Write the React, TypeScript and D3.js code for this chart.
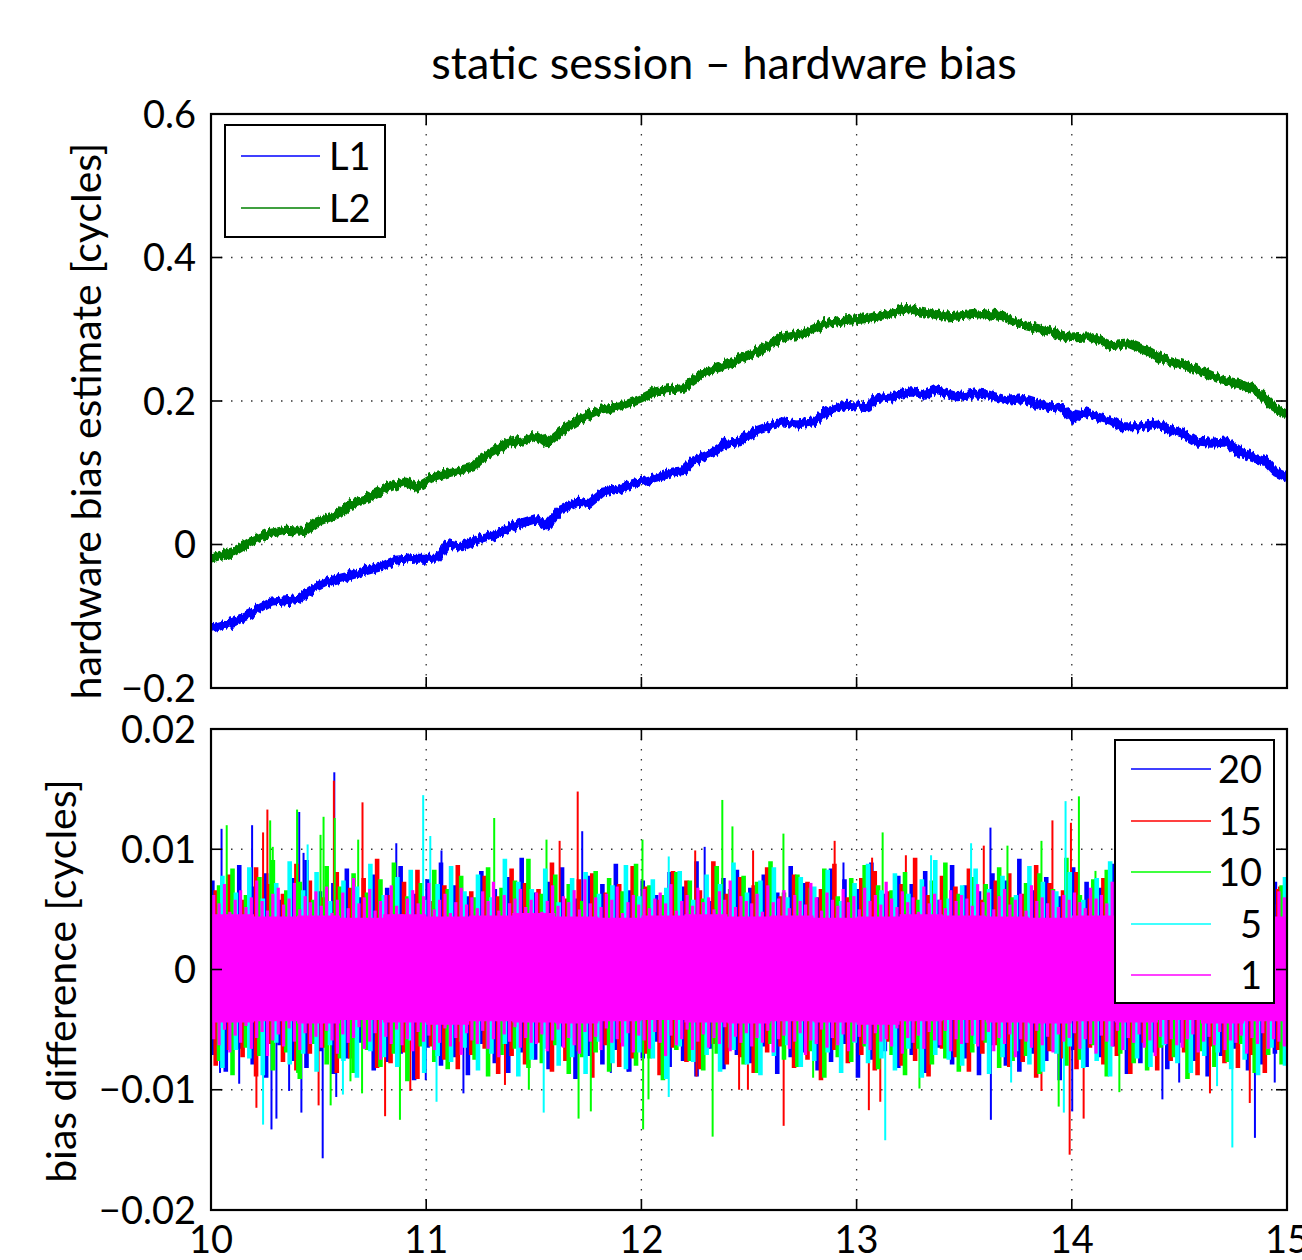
import React from "react";
import * as d3 from "d3";

// ---------- axis ticks ----------
const X_TICKS = [10, 11, 12, 13, 14, 15];
const TOP_Y_TICKS = [-0.2, 0, 0.2, 0.4, 0.6];
const BOTTOM_Y_TICKS = [-0.02, -0.01, 0, 0.01, 0.02];
const TOP_Y_LABELS = ["\u22120.2", "0", "0.2", "0.4", "0.6"];
const BOTTOM_Y_LABELS = ["\u22120.02", "\u22120.01", "0", "0.01", "0.02"];

// ---------- upper panel: hardware bias estimates [hour, cycles] ----------
const L1_POINTS: [number, number][] = [
  [10.0, -0.117], [10.105, -0.108], [10.186, -0.096], [10.284, -0.08], [10.399, -0.077],
  [10.464, -0.064], [10.562, -0.05], [10.627, -0.045], [10.725, -0.036], [10.791, -0.031],
  [10.856, -0.022], [10.954, -0.019], [11.052, -0.019], [11.101, 0.001], [11.167, -0.003],
  [11.248, 0.008], [11.33, 0.015], [11.412, 0.027], [11.51, 0.036], [11.559, 0.026],
  [11.624, 0.048], [11.706, 0.059], [11.755, 0.057], [11.82, 0.073], [11.902, 0.078],
  [12.0, 0.087], [12.065, 0.092], [12.147, 0.101], [12.196, 0.103], [12.245, 0.117],
  [12.327, 0.127], [12.392, 0.141], [12.455, 0.143], [12.538, 0.159], [12.654, 0.171],
  [12.721, 0.168], [12.804, 0.171], [12.87, 0.187], [12.953, 0.194], [13.053, 0.192],
  [13.086, 0.203], [13.169, 0.206], [13.252, 0.213], [13.319, 0.208], [13.369, 0.215],
  [13.468, 0.206], [13.551, 0.21], [13.618, 0.208], [13.701, 0.201], [13.767, 0.203],
  [13.867, 0.194], [13.95, 0.189], [14.008, 0.175], [14.05, 0.185], [14.116, 0.178],
  [14.183, 0.173], [14.233, 0.164], [14.316, 0.164], [14.399, 0.168], [14.449, 0.161],
  [14.515, 0.155], [14.581, 0.143], [14.648, 0.141], [14.714, 0.143], [14.781, 0.129],
  [14.847, 0.122], [14.897, 0.117], [14.947, 0.101], [15.0, 0.094],
];

const L2_POINTS: [number, number][] = [
  [10.0, -0.019], [10.105, -0.01], [10.186, 0.004], [10.268, 0.015], [10.35, 0.02],
  [10.431, 0.018], [10.497, 0.032], [10.595, 0.043], [10.644, 0.055], [10.725, 0.064],
  [10.807, 0.076], [10.905, 0.087], [10.954, 0.08], [11.02, 0.092], [11.118, 0.101],
  [11.216, 0.108], [11.265, 0.122], [11.379, 0.141], [11.461, 0.145], [11.51, 0.152],
  [11.559, 0.141], [11.641, 0.161], [11.706, 0.173], [11.804, 0.187], [11.902, 0.192],
  [12.0, 0.203], [12.065, 0.213], [12.196, 0.219], [12.294, 0.24], [12.392, 0.25],
  [12.455, 0.259], [12.555, 0.271], [12.654, 0.289], [12.754, 0.294], [12.854, 0.308],
  [12.953, 0.312], [13.053, 0.315], [13.153, 0.322], [13.236, 0.329], [13.319, 0.324],
  [13.419, 0.317], [13.518, 0.32], [13.585, 0.322], [13.684, 0.317], [13.784, 0.305],
  [13.884, 0.298], [13.983, 0.289], [14.083, 0.291], [14.183, 0.277], [14.266, 0.28],
  [14.365, 0.268], [14.432, 0.257], [14.515, 0.25], [14.615, 0.24], [14.698, 0.229],
  [14.781, 0.224], [14.864, 0.213], [14.93, 0.194], [15.0, 0.18],
];

// ---------- lower panel: bias differences, per-bin max/min in 1e-4 cycles ----------
const BLUE_HI = [74,62,87,69,80,58,76,91,65,72,84,60,79,68,86,63,75,89,70,61,
  82,67,77,93,64,73,85,59,78,71,88,66,74,62,81,69,90,57,76,83,
  68,79,64,86,72,60,84,75,67,89,63,78,71,82,58,87,70,65,80,74,
  92,66,77,61,85,73,68,88,62,79,75,84,59,71,86,67,78,64,81,73];
const BLUE_LO = [-71,-85,-66,-79,-90,-63,-76,-82,-68,-87,-74,-61,-84,-77,-70,-92,-65,-80,-73,-88,
  -62,-78,-86,-69,-75,-83,-64,-91,-72,-79,-67,-85,-74,-60,-81,-76,-89,-66,-83,-71,
  -78,-64,-87,-73,-69,-84,-77,-62,-90,-75,-68,-82,-71,-86,-65,-79,-74,-88,-63,-80,
  -85,-70,-76,-92,-67,-81,-73,-64,-87,-78,-69,-83,-61,-76,-89,-72,-66,-84,-79,-70];
const RED_HI = [66,79,58,85,71,63,88,74,60,81,68,76,92,62,73,83,57,70,87,65,
  78,61,84,72,67,89,59,75,80,64,71,86,69,58,82,74,66,90,63,77,
  70,85,61,79,73,67,88,60,76,82,65,71,93,62,78,69,84,58,74,80,
  63,87,72,66,81,59,76,90,68,73,62,85,70,64,79,75,88,61,83,67];
const RED_LO = [-80,-67,-73,-89,-62,-77,-84,-70,-65,-86,-74,-60,-82,-78,-69,-91,-64,-75,-83,-71,
  -66,-87,-72,-79,-61,-85,-76,-68,-90,-63,-81,-74,-70,-88,-65,-77,-83,-62,-79,-73,
  -86,-69,-64,-82,-75,-92,-67,-78,-71,-84,-60,-80,-76,-89,-66,-73,-85,-70,-63,-81,
  -77,-90,-68,-74,-83,-65,-79,-72,-87,-61,-84,-76,-69,-88,-64,-78,-82,-71,-86,-67];
const GREEN_HI = [70,84,62,77,91,66,73,58,86,69,80,64,75,89,61,72,83,67,78,60,
  85,68,74,92,63,79,71,57,82,76,65,88,70,62,81,74,59,86,67,78,
  73,90,64,79,68,84,61,76,87,70,66,81,58,74,89,63,77,71,85,60,
  72,80,67,93,62,75,83,69,78,64,86,71,60,82,74,68,88,65,79,70];
const GREEN_LO = [-76,-88,-65,-72,-84,-69,-91,-62,-79,-74,-86,-67,-81,-70,-93,-64,-77,-83,-60,-75,
  -89,-71,-66,-82,-78,-63,-87,-73,-69,-85,-61,-80,-74,-92,-67,-76,-84,-70,-65,-79,
  -86,-62,-75,-81,-68,-90,-73,-77,-64,-83,-71,-88,-66,-79,-74,-85,-69,-61,-82,-76,
  -72,-87,-67,-80,-75,-63,-89,-70,-78,-84,-65,-73,-91,-68,-81,-77,-62,-86,-71,-79];
const CYAN_HI = [78,64,85,59,72,90,66,81,57,74,69,88,62,77,83,58,71,86,65,79,
  60,92,73,67,84,56,76,81,63,70,87,61,75,68,82,58,79,71,89,64,
  74,85,60,77,69,83,57,72,88,66,80,63,75,91,59,70,84,67,78,62,
  86,73,65,81,58,76,90,68,74,61,83,70,79,64,87,59,72,80,66,77];
const CYAN_LO = [-82,-67,-74,-88,-61,-79,-70,-85,-63,-76,-90,-68,-73,-81,-59,-86,-72,-77,-65,-84,
  -70,-62,-89,-75,-66,-80,-73,-87,-60,-78,-83,-69,-74,-91,-64,-77,-71,-85,-67,-79,
  -88,-72,-63,-81,-76,-69,-86,-61,-78,-74,-84,-66,-90,-71,-75,-80,-62,-87,-73,-68,
  -79,-85,-70,-64,-82,-76,-89,-67,-74,-81,-63,-78,-86,-72,-69,-83,-75,-88,-65,-80];
const MAGENTA_HI = [62,55,71,48,58,66,52,60,74,57,49,63,68,54,59,72,50,61,56,65,
  53,69,47,58,64,51,76,55,60,67,49,57,62,70,53,46,59,66,55,61,
  72,50,58,63,47,56,68,54,60,51,65,57,73,49,62,55,59,67,52,58,
  64,48,57,70,53,61,56,66,50,75,55,60,52,63,58,69,47,56,62,54,
  67,51,59,64,55,71,49,57,62,53,68,56,60,50,65,58,74,52,61,57,
  55,63,48,70,56,59,66,51,62,57,54,72,60,49,64,58,53,67,56,61,
  50,68,57,62,54,73,59,52,65,56,60,48,69,55,63,58,51,66,57,62,
  59,53,71,56,64,50,61,67,54,58,63,49,70,57,60,55,66,52,62,58,
  64,56,51,68,59,62,55,73,50,60,57,65,53,61,69,56,58,52,63,67,
  54,60,66,50,63,57,71,55,59,52,64,58,62,49,67,56,61,54,65,60];
const MAGENTA_LO = [-58,-63,-50,-69,-55,-61,-47,-66,-57,-52,-72,-59,-54,-64,-49,-60,-67,-53,-62,-56,
  -65,-51,-59,-70,-54,-61,-57,-48,-66,-60,-53,-75,-56,-62,-50,-63,-58,-68,-52,-60,
  -55,-67,-61,-49,-64,-57,-71,-53,-59,-62,-51,-66,-58,-73,-54,-60,-48,-65,-57,-61,
  -62,-54,-68,-59,-50,-65,-57,-63,-70,-52,-60,-56,-67,-49,-61,-58,-64,-53,-69,-55,
  -59,-66,-52,-61,-72,-55,-63,-58,-50,-67,-60,-54,-65,-57,-62,-48,-68,-56,-61,-53,
  -64,-57,-61,-51,-69,-58,-55,-66,-60,-53,-71,-59,-62,-50,-65,-57,-63,-54,-68,-60,
  -56,-62,-67,-53,-60,-58,-64,-49,-70,-57,-61,-55,-66,-52,-59,-63,-51,-68,-58,-62,
  -61,-55,-64,-59,-52,-68,-57,-62,-54,-73,-58,-60,-65,-51,-63,-56,-69,-54,-60,-57,
  -53,-66,-58,-62,-70,-55,-60,-64,-51,-67,-57,-61,-54,-65,-59,-72,-56,-62,-58,-63,
  -65,-58,-54,-69,-60,-56,-63,-52,-67,-59,-61,-55,-70,-57,-62,-53,-66,-58,-60,-64];
// dense central part of the 1-epoch series, every 0.2 h
const MAGENTA_CORE_HI = [46,44,45,43,46,44,45,47,44,43,45,46,44,45,43,44,46,45,44,43,45,46,44,45,44,46];
const MAGENTA_CORE_LO = [-44,-43,-45,-42,-44,-46,-43,-44,-45,-43,-42,-44,-45,-43,-44,-46,-43,-42,-44,-45,-43,-44,-42,-45,-43,-44];

// isolated outliers [hour, 1e-4 cycles]
const BLUE_PEAKS: [number, number][] = [
  [10.049, 117], [10.191, 120], [10.41, 131], [10.43, 97], [10.573, 164], [10.861, 105],
  [11.071, 99], [11.725, 115], [12.294, 102], [12.939, 89], [13.622, 118],
  [10.042, -86], [10.131, -95], [10.281, -133], [10.304, -124], [10.363, -101], [10.42, -119],
  [10.519, -157], [10.582, -106], [10.998, -92], [11.173, -103], [11.858, -86], [11.935, -85],
  [13.624, -125], [14.002, -118], [14.421, -108], [14.499, -94], [14.851, -140], [14.943, -94],
];
const RED_PEAKS: [number, number][] = [
  [10.242, 114], [10.262, 133], [10.571, 157], [10.704, 139], [11.62, 107], [11.704, 148],
  [12.25, 99], [12.519, 99], [12.898, 107], [13.072, 93], [13.229, 95], [13.591, 103],
  [13.91, 124], [13.996, 122], [14.963, 69],
  [10.211, -115], [10.5, -113], [10.809, -122], [10.926, -101], [11.285, -88], [11.366, -96],
  [12.256, -89], [12.454, -100], [12.495, -100], [12.661, -130], [13.057, -117], [13.11, -110],
  [13.859, -101], [13.99, -154], [14.055, -124], [14.642, -103], [14.827, -111],
];
const GREEN_PEAKS: [number, number][] = [
  [10.073, 120], [10.275, 124], [10.287, 102], [10.4, 133], [10.509, 112], [10.523, 127],
  [10.575, 126], [10.684, 108], [11.316, 126], [11.559, 108], [12.005, 108], [12.376, 141],
  [12.423, 119], [12.66, 113], [13.121, 114], [13.701, 103], [13.859, 107], [14.033, 144],
  [14.11, 82],
  [10.4, -86], [10.556, -113], [10.648, -93], [10.702, -103], [10.878, -125], [11.477, -100],
  [11.708, -124], [11.765, -118], [12.008, -133], [12.033, -108], [12.331, -139], [12.798, -90],
  [13.292, -99], [13.939, -114], [14.221, -102],
];
const CYAN_PEAKS: [number, number][] = [
  [10.449, 104], [10.986, 145], [11.019, 111], [12.127, 94], [13.346, 95], [13.532, 105],
  [13.971, 140], [14.906, 99],
  [10.242, -129], [10.613, -104], [11.048, -110], [11.546, -119], [12.127, -106], [13.133, -142],
  [13.718, -94], [13.963, -119], [14.675, -97], [14.746, -148],
];

const SERIES_LABELS = ["20", "15", "10", "5", "1"];
const SERIES_COLORS = ["#0000ff", "#ff0000", "#00ff00", "#00ffff", "#ff00ff"];

// ---------- layout ----------
const W = 1302;
const H = 1260;
const LEFT = 211;
const RIGHT = 1287;
const TOP_PANEL = { top: 114, bottom: 688 };
const BOTTOM_PANEL = { top: 729, bottom: 1210 };
const TICK_LEN = 11;
const FONT = "Lato, 'Open Sans', 'DejaVu Sans', sans-serif";
const TICK_FONT = 38;
const LABEL_FONT = 41;
const TITLE_FONT = 45;
const UNIT = 1e-4;

const x = d3.scaleLinear().domain([10, 15]).range([LEFT, RIGHT]);
const yTop = d3.scaleLinear().domain([-0.2, 0.6]).range([TOP_PANEL.bottom, TOP_PANEL.top]);
const yBot = d3.scaleLinear().domain([-0.02, 0.02]).range([BOTTOM_PANEL.bottom, BOTTOM_PANEL.top]);

function Grid({ top, bottom, yScale, yTicks }: any) {
  return (
    <g>
      {X_TICKS.slice(1, -1).map((t) => (
        <line key={"gx" + t} x1={x(t)} x2={x(t)} y1={top} y2={bottom}
          stroke="#333" strokeWidth={1.3} strokeDasharray="1.5 8.5" />
      ))}
      {yTicks.slice(1, -1).map((t: number) => (
        <line key={"gy" + t} x1={LEFT} x2={RIGHT} y1={yScale(t)} y2={yScale(t)}
          stroke="#333" strokeWidth={1.3} strokeDasharray="1.5 8.5" />
      ))}
    </g>
  );
}

function Box({ top, bottom, yScale, yTicks, yLabels, showXLabels }: any) {
  return (
    <g>
      <rect x={LEFT} y={top} width={RIGHT - LEFT} height={bottom - top}
        fill="none" stroke="#000" strokeWidth={2.2} />
      {X_TICKS.map((t) => (
        <g key={"tx" + t}>
          <line x1={x(t)} x2={x(t)} y1={bottom} y2={bottom - TICK_LEN} stroke="#000" strokeWidth={1.6} />
          <line x1={x(t)} x2={x(t)} y1={top} y2={top + TICK_LEN} stroke="#000" strokeWidth={1.6} />
          {showXLabels && (
            <text x={x(t)} y={1253} textAnchor="middle" fontSize={TICK_FONT} fontFamily={FONT} fill="#000">
              {t}
            </text>
          )}
        </g>
      ))}
      {yTicks.map((t: number, i: number) => (
        <g key={"ty" + t}>
          <line x1={LEFT} x2={LEFT + TICK_LEN} y1={yScale(t)} y2={yScale(t)} stroke="#000" strokeWidth={1.6} />
          <line x1={RIGHT - TICK_LEN} x2={RIGHT} y1={yScale(t)} y2={yScale(t)} stroke="#000" strokeWidth={1.6} />
          <text x={196} y={yScale(t)} dy="0.36em" textAnchor="end" fontSize={TICK_FONT} fontFamily={FONT} fill="#000">
            {yLabels[i]}
          </text>
        </g>
      ))}
    </g>
  );
}

function Stems({ hi, lo, color, phase, width }: any) {
  const n = hi.length;
  return (
    <g>
      {hi.map((h: number, i: number) => {
        const t = 10 + ((i + phase) * 5) / n;
        return (
          <line key={i} x1={x(t)} x2={x(t)} y1={yBot(lo[i] * UNIT)} y2={yBot(h * UNIT)}
            stroke={color} strokeWidth={width} />
        );
      })}
    </g>
  );
}

function Peaks({ peaks, color }: any) {
  return (
    <g>
      {peaks.map(([t, v]: [number, number], i: number) => (
        <line key={i} x1={x(t)} x2={x(t)} y1={yBot(0)} y2={yBot(v * UNIT)} stroke={color} strokeWidth={2} />
      ))}
    </g>
  );
}

export default function App() {
  const line = d3.line<[number, number]>().x((d) => x(d[0])).y((d) => yTop(d[1]));

  const coreArea = d3
    .area<number>()
    .x((_, i) => x(10 + i * 0.2))
    .y0((_, i) => yBot(MAGENTA_CORE_LO[i] * UNIT))
    .y1((d) => yBot(d * UNIT))
    .curve(d3.curveStepAfter);

  const colored = [
    { hi: BLUE_HI, lo: BLUE_LO, peaks: BLUE_PEAKS, color: SERIES_COLORS[0], phase: 0.1 },
    { hi: RED_HI, lo: RED_LO, peaks: RED_PEAKS, color: SERIES_COLORS[1], phase: 0.35 },
    { hi: GREEN_HI, lo: GREEN_LO, peaks: GREEN_PEAKS, color: SERIES_COLORS[2], phase: 0.6 },
    { hi: CYAN_HI, lo: CYAN_LO, peaks: CYAN_PEAKS, color: SERIES_COLORS[3], phase: 0.85 },
  ];

  const legendYs = [769, 821, 872, 924, 975];

  return (
    <svg width={W} height={H} style={{ position: "absolute", left: 0, top: 0, background: "#fff" }}
      xmlns="http://www.w3.org/2000/svg">
      <defs>
        <clipPath id="clipTop">
          <rect x={LEFT} y={TOP_PANEL.top} width={RIGHT - LEFT} height={TOP_PANEL.bottom - TOP_PANEL.top} />
        </clipPath>
        <clipPath id="clipBottom">
          <rect x={LEFT} y={BOTTOM_PANEL.top} width={RIGHT - LEFT} height={BOTTOM_PANEL.bottom - BOTTOM_PANEL.top} />
        </clipPath>
        {/* measurement noise texture for the densely sampled estimate traces */}
        <filter id="traceNoise" filterUnits="userSpaceOnUse" x={LEFT - 10} y={TOP_PANEL.top}
          width={RIGHT - LEFT + 20} height={TOP_PANEL.bottom - TOP_PANEL.top}>
          <feTurbulence type="fractalNoise" baseFrequency="0.35 0.04" numOctaves={2} seed={7} result="noise" />
          <feComponentTransfer in="noise" result="vnoise">
            <feFuncR type="linear" slope={0} intercept={0.5} />
          </feComponentTransfer>
          <feDisplacementMap in="SourceGraphic" in2="vnoise" scale={10} xChannelSelector="R" yChannelSelector="G" />
        </filter>
      </defs>
      <rect x={0} y={0} width={W} height={H} fill="#fff" />

      {/* title */}
      <text x={724} y={79} textAnchor="middle" fontSize={TITLE_FONT} fontFamily={FONT} fill="#000">
        static session – hardware bias
      </text>

      {/* ---------- upper panel ---------- */}
      <Grid top={TOP_PANEL.top} bottom={TOP_PANEL.bottom} yScale={yTop} yTicks={TOP_Y_TICKS} />
      <g clipPath="url(#clipTop)">
        <g filter="url(#traceNoise)">
          <path d={line(L1_POINTS) || ""} fill="none" stroke="#0000ff" strokeWidth={9} strokeLinejoin="round" />
          <path d={line(L2_POINTS) || ""} fill="none" stroke="#008000" strokeWidth={9} strokeLinejoin="round" />
        </g>
      </g>
      <Box top={TOP_PANEL.top} bottom={TOP_PANEL.bottom} yScale={yTop} yTicks={TOP_Y_TICKS}
        yLabels={TOP_Y_LABELS} showXLabels={false} />
      <text transform="translate(101,421) rotate(-90)" textAnchor="middle" fontSize={LABEL_FONT} fontFamily={FONT} fill="#000">
        hardware bias estimate [cycles]
      </text>
      <g>
        <rect x={225} y={125} width={160} height={112} fill="#fff" stroke="#000" strokeWidth={2} />
        <line x1={241} x2={320} y1={156} y2={156} stroke="#0000ff" strokeWidth={1.5} />
        <line x1={241} x2={320} y1={208} y2={208} stroke="#008000" strokeWidth={1.5} />
        <text x={329} y={156} dy="0.36em" fontSize={TICK_FONT} fontFamily={FONT}>L1</text>
        <text x={329} y={208} dy="0.36em" fontSize={TICK_FONT} fontFamily={FONT}>L2</text>
      </g>

      {/* ---------- lower panel ---------- */}
      <Grid top={BOTTOM_PANEL.top} bottom={BOTTOM_PANEL.bottom} yScale={yBot} yTicks={BOTTOM_Y_TICKS} />
      <g clipPath="url(#clipBottom)">
        {colored.map((s, k) => (
          <g key={k}>
            <Stems hi={s.hi} lo={s.lo} color={s.color} phase={s.phase} width={4.6} />
            <Peaks peaks={s.peaks} color={s.color} />
          </g>
        ))}
        <path d={coreArea(MAGENTA_CORE_HI) || ""} fill={SERIES_COLORS[4]} />
        <Stems hi={MAGENTA_HI} lo={MAGENTA_LO} color={SERIES_COLORS[4]} phase={0.5} width={3.2} />
      </g>
      <Box top={BOTTOM_PANEL.top} bottom={BOTTOM_PANEL.bottom} yScale={yBot} yTicks={BOTTOM_Y_TICKS}
        yLabels={BOTTOM_Y_LABELS} showXLabels={true} />
      <text transform="translate(76,981) rotate(-90)" textAnchor="middle" fontSize={LABEL_FONT} fontFamily={FONT} fill="#000">
        bias difference [cycles]
      </text>
      <g>
        <rect x={1115} y={740} width={159} height={263} fill="#fff" stroke="#000" strokeWidth={2} />
        {SERIES_LABELS.map((lab, i) => (
          <g key={lab}>
            <line x1={1131} x2={1211} y1={legendYs[i]} y2={legendYs[i]} stroke={SERIES_COLORS[i]} strokeWidth={1.5} />
            <text x={1262} y={legendYs[i]} dy="0.36em" textAnchor="end" fontSize={TICK_FONT} fontFamily={FONT}>
              {lab}
            </text>
          </g>
        ))}
      </g>
    </svg>
  );
}
